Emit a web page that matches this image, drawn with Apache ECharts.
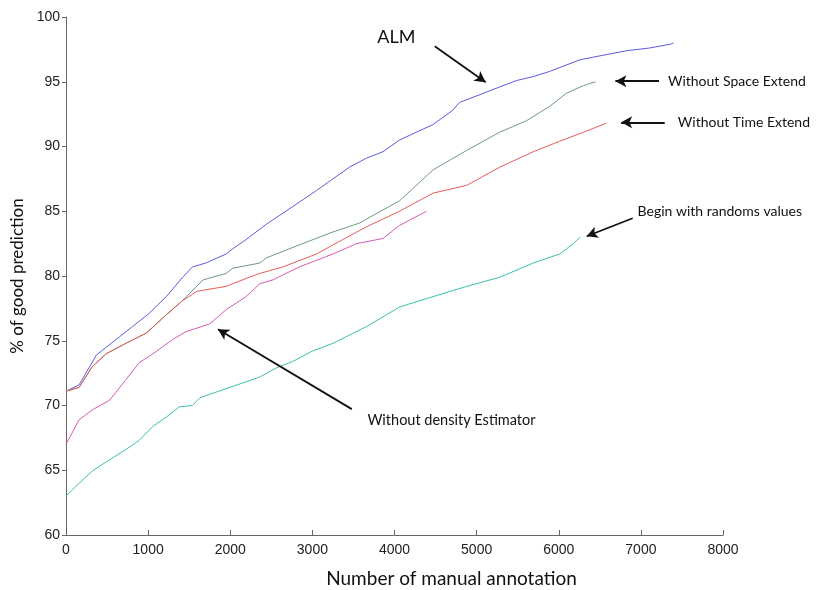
<!DOCTYPE html>
<html><head><meta charset="utf-8">
<script src="https://cdn.jsdelivr.net/npm/echarts@6/dist/echarts.min.js"></script>
<style>html,body{margin:0;padding:0;background:#fff}#c{width:816px;height:590px}</style>
</head><body><div id="c"></div>
<script>
const xTicks = [0,1000,2000,3000,4000,5000,6000,7000,8000];
const yTicks = [60,65,70,75,80,85,90,95,100];

const almData = [[0,71.1],[160,71.6],[280,72.9],[370,73.9],[490,74.5],[650,75.3],[810,76.1],[1010,77.1],[1220,78.4],[1420,79.9],[1540,80.7],[1700,81.0],[1950,81.7],[2030,82.1],[2190,82.8],[2440,84.0],[2840,85.7],[3050,86.6],[3250,87.5],[3450,88.4],[3660,89.1],[3860,89.6],[4060,90.5],[4470,91.7],[4710,92.8],[4790,93.4],[5080,94.1],[5280,94.6],[5490,95.1],[5690,95.4],[5890,95.8],[6260,96.7],[6420,96.9],[6830,97.4],[7100,97.6],[7360,97.9],[7400,98.0]];
const spaceData = [[0,71.1],[160,71.4],[320,73.0],[490,74.0],[730,74.8],[980,75.6],[1220,77.0],[1420,78.1],[1590,79.2],[1670,79.7],[1950,80.2],[2030,80.6],[2360,81.0],[2440,81.4],[2840,82.4],[3250,83.4],[3580,84.1],[3660,84.4],[4060,85.8],[4470,88.2],[4880,89.7],[5280,91.1],[5610,92.0],[5890,93.1],[6090,94.1],[6300,94.7],[6450,95.0]];
const timeData = [[0,71.1],[160,71.4],[320,73.0],[490,74.0],[730,74.8],[980,75.6],[1220,77.0],[1420,78.1],[1590,78.8],[1670,78.9],[1950,79.2],[2230,79.9],[2360,80.2],[2640,80.7],[3050,81.7],[3250,82.4],[3660,83.8],[4060,85.0],[4470,86.4],[4880,87.0],[5280,88.4],[5690,89.6],[6010,90.4],[6300,91.1],[6580,91.8]];
const densityData = [[0,67.0],[160,68.9],[330,69.7],[530,70.4],[730,72.0],[890,73.3],[1060,74.0],[1300,75.1],[1460,75.7],[1750,76.3],[1950,77.4],[2190,78.4],[2360,79.4],[2520,79.7],[2840,80.7],[3250,81.7],[3540,82.5],[3860,82.9],[3980,83.5],[4060,83.9],[4390,85.0]];
const randomData = [[0,63.0],[160,64.0],[330,65.0],[530,65.8],[730,66.6],[890,67.3],[1060,68.4],[1220,69.1],[1380,69.9],[1540,70.0],[1630,70.6],[1950,71.3],[2360,72.2],[2560,72.9],[2760,73.4],[3000,74.2],[3250,74.8],[3660,76.1],[4060,77.6],[4310,78.1],[4880,79.2],[5280,79.9],[5690,81.0],[6010,81.7],[6180,82.5],[6260,83.0]];

const seriesNames = ['ALM','Without Space Extend','Without Time Extend','Without density Estimator','Begin with randoms values'];
const seriesColors = ['#5c5ce0','#6f9a80','#e85c5c','#d65cb4','#3cbfae'];
const seriesData = [almData, spaceData, timeData, densityData, randomData];

// annotation arrows: [fromX, fromY, toX, toY]
const arrows = [[4490,97.74,5110,94.96],[7220,95.04,6690,95.04],[7290,91.87,6760,91.87],[6900,84.46,6340,83.07],[3480,69.72,1850,75.89]];
// annotation labels: [text, x, y, fontSize]
const notes = [['ALM',3790,98.4,18],['Without Space Extend',7330,94.96,14],['Without Time Extend',7450,91.8,14],['Begin with randoms values',6960,84.9,14],['Without density Estimator',3670,68.8,14.5]];

const chart = echarts.init(document.getElementById('c'), null, {renderer:'canvas'});
const font = 'Lato, "Open Sans", sans-serif';
const series = seriesData.map((d,i)=>({
  name: seriesNames[i], type:'line', data:d, showSymbol:false, symbol:'none',
  lineStyle:{width:1,color:seriesColors[i]}, itemStyle:{color:seriesColors[i]}, z:2
}));
series.push({
  type:'line', data:[], silent:true,
  markLine:{silent:true, symbol:['none','arrow'], symbolSize:[9,11],
    lineStyle:{color:'#111',width:1.8,type:'solid'}, label:{show:false},
    data: arrows.map(a=>[{coord:[a[0],a[1]]},{coord:[a[2],a[3]]}])}
});
chart.setOption({
  animation:false,
  backgroundColor:'#fff',
  grid:{left:66,right:93,top:17,bottom:55,containLabel:false,outerBoundsMode:'none'},
  xAxis:{type:'value',min:xTicks[0],max:xTicks[xTicks.length-1],interval:1000,
    name:'Number of manual annotation',nameLocation:'middle',nameGap:34,
    nameTextStyle:{fontSize:19,color:'#111',fontFamily:font,padding:[0,0,0,114]},
    axisLine:{lineStyle:{color:'#666',width:1}},
    axisTick:{inside:true,length:5,lineStyle:{color:'#666'}},
    axisLabel:{fontSize:14,color:'#222',fontFamily:'"Liberation Sans", Arial, sans-serif',margin:8,formatter:v=>String(v)},
    splitLine:{show:false}},
  yAxis:{type:'value',min:yTicks[0],max:yTicks[yTicks.length-1],interval:5,
    name:'% of good prediction',nameLocation:'middle',nameGap:37,nameRotate:90,
    nameTextStyle:{fontSize:17,color:'#111',fontFamily:font},
    axisLine:{show:true,lineStyle:{color:'#666',width:1}},
    axisTick:{show:true,inside:false,length:4,lineStyle:{color:'#666'}},
    axisLabel:{fontSize:14,color:'#222',fontFamily:'"Liberation Sans", Arial, sans-serif',margin:6,formatter:v=>String(v)},
    splitLine:{show:false}},
  series: series
});
const graphics = notes.map(n=>{
  const p = chart.convertToPixel({gridIndex:0},[n[1],n[2]]);
  return {type:'text', left:p[0], top:p[1]-n[3]/2-1, style:{text:n[0], fontSize:n[3], fill:'#111', fontFamily:font}, z:10};
});
chart.setOption({graphic:graphics});
</script></body></html>
